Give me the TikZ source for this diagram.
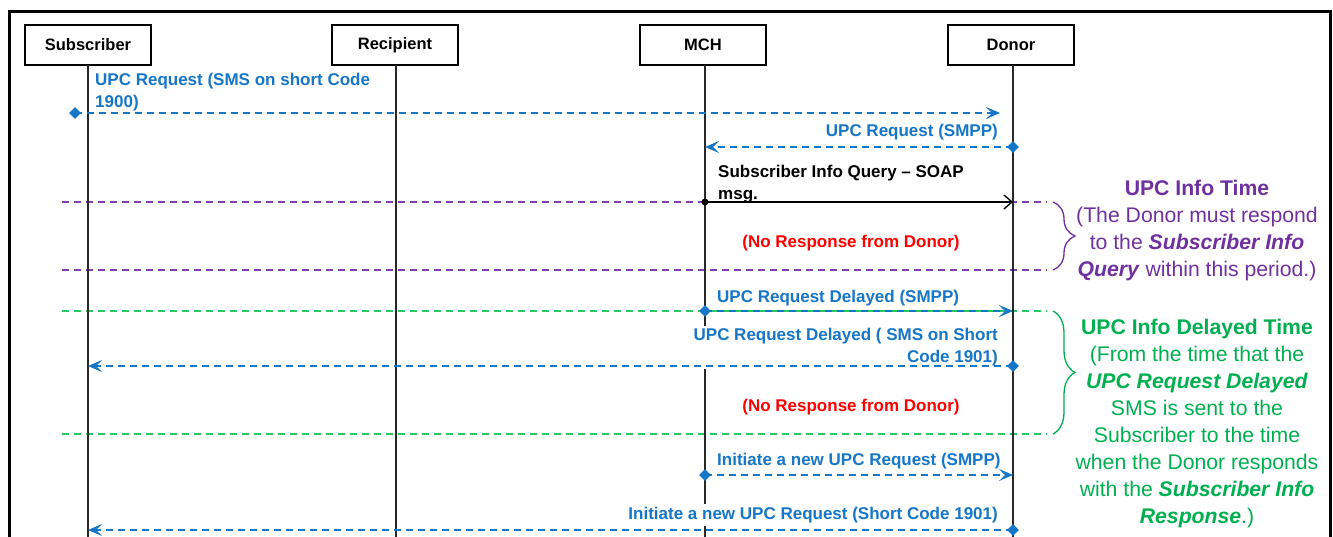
\documentclass[tikz,border=0pt]{standalone}
\usepackage{fontspec}
\setmainfont{Liberation Sans}
\usetikzlibrary{arrows.meta,shapes.geometric,decorations.pathreplacing}

\definecolor{msgblue}{RGB}{22,118,200}
\definecolor{infopurple}{RGB}{112,48,160}
\definecolor{seppurple}{RGB}{128,64,176}
\definecolor{infogreen}{RGB}{0,176,80}
\definecolor{sepgreen}{RGB}{40,200,100}
\definecolor{noresp}{RGB}{255,0,0}
\definecolor{lifegray}{RGB}{40,40,40}

\tikzset{
  actor/.style={draw=black, line width=1.5pt, minimum width=126pt, minimum height=40pt,
    inner sep=0pt, font=\fontsize{16.5}{20}\selectfont\bfseries},
  lifeline/.style={draw=lifegray, line width=1.4pt},
  async/.style={draw=msgblue, line width=1.3pt, dash pattern=on 7pt off 5pt,
    -{Stealth[length=14pt,width=12pt,inset=6pt]}},
  syncmsg/.style={draw=black, line width=1.4pt, -{Straight Barb[length=8pt,width=14pt]}},
  origin/.style={diamond, fill=msgblue, minimum size=12pt, inner sep=0pt},
  startdot/.style={circle, fill=black, minimum size=7pt, inner sep=0pt},
  msglbl/.style={font=\fontsize{17}{22}\selectfont\bfseries, text=msgblue, inner sep=0pt},
  noresplbl/.style={font=\fontsize{17}{22}\selectfont\bfseries, text=noresp, inner sep=0pt},
  sepline/.style={line width=1.3pt, dash pattern=on 7pt off 5pt},
  period/.style={line width=1.3pt, decorate,
    decoration={brace, amplitude=22pt, aspect=0.5}},
  note/.style={font=\fontsize{21.2}{27}\selectfont, align=center, inner sep=0pt},
}

\begin{document}
\begin{tikzpicture}[x=1pt, y=-1pt]
\useasboundingbox (0,0) rectangle (1333,536);

% outer frame
\draw[line width=3pt] (9,11) rectangle (1330,560);

% participants
\node[actor] (sub) at (88,45)   {Subscriber};
\node[actor] (rec) at (395,45)  {Recipient};
\node[actor] (mch) at (703,45)  {MCH};
\node[actor] (don) at (1011,45) {Donor};
\coordinate (bottom) at (0,540);

% timing separators
\coordinate (pt1) at (62,202);  \coordinate (pt1e) at (1047,202);
\coordinate (pt2) at (62,270);  \coordinate (pt2e) at (1047,270);
\coordinate (gt1) at (62,311);  \coordinate (gt1e) at (1047,311);
\coordinate (gt2) at (62,434);  \coordinate (gt2e) at (1047,434);
\draw[sepline, seppurple] (pt1) -- (pt1e);
\draw[sepline, seppurple] (pt2) -- (pt2e);
\draw[sepline, sepgreen] (gt1) -- (gt1e);
\draw[sepline, sepgreen] (gt2) -- (gt2e);

% lifelines
\coordinate (subl) at (88,65);
\coordinate (recl) at (396,65);
\coordinate (mchl) at (705,65);
\coordinate (donl) at (1013,65);
\draw[lifeline] (subl) -- (subl |- bottom);
\draw[lifeline] (recl) -- (recl |- bottom);
\draw[lifeline] (mchl) -- (mchl |- bottom);
\draw[lifeline] (donl) -- (donl |- bottom);

% period braces
\coordinate (pb1) at (1053,202); \coordinate (pb2) at (1053,270);
\coordinate (gb1) at (1053,311); \coordinate (gb2) at (1053,434);
\draw[period, infopurple] (pb1) -- (pb2);
\draw[period, infogreen] (gb1) -- (gb2);

% message labels
\node[msglbl, anchor=south west, align=left] (l1) at (95,111.6)
  {UPC Request (SMS on short Code\\1900)};
\node[msglbl, anchor=base east] (l2) at (998,136) {UPC Request (SMPP)};
\node[msglbl, text=black, anchor=south west, align=left] (l3) at (718,203.6)
  {Subscriber Info Query – SOAP\\msg.};
\node[noresplbl, anchor=base] (nr1) at (851,247) {(No Response from Donor)};
\node[msglbl, anchor=base west] (l4) at (717,302) {UPC Request Delayed (SMPP)};
\node[msglbl, anchor=south east, align=right, fill=white, inner ysep=3pt] (l5) at (998,369.6)
  {UPC Request Delayed ( SMS on Short\\Code 1901)};
\node[noresplbl, anchor=base] (nr2) at (851,411) {(No Response from Donor)};
\node[msglbl, anchor=base west] (l6) at (717,465) {Initiate a new UPC Request (SMPP)};
\node[msglbl, anchor=base east, fill=white, inner ysep=3pt] (l7) at (998,519)
  {Initiate a new UPC Request (Short Code 1901)};

% messages
\coordinate (m1a) at (75,113);
\coordinate (m1b) at (1000,113);
\node[origin] (o1) at (m1a) {};
\draw[async] (o1.center) -- (m1b);

\node[origin] (o2) at (donl |- 0,147) {};
\draw[async] (o2.center) -- (mchl |- o2);

\node[startdot] (o3) at (mchl |- 0,202) {};
\draw[syncmsg] (o3.center) -- (donl |- o3);

\node[origin] (o4) at (mchl |- 0,311) {};
\draw[async] (o4.center) -- (donl |- o4);

\node[origin] (o5) at (donl |- 0,366) {};
\draw[async] (o5.center) -- (subl |- o5);

\node[origin] (o6) at (mchl |- 0,475) {};
\draw[async] (o6.center) -- (donl |- o6);

\node[origin] (o7) at (donl |- 0,530) {};
\draw[async] (o7.center) -- (subl |- o7);

% period notes
\node[note, text=infopurple, anchor=south] (info) at (1197,281.4)
  {\textbf{UPC Info Time}\\
   (The Donor must respond\\
   to the \textbf{\textit{Subscriber Info}}\\
   \textbf{\textit{Query}} within this period.)};
\node[note, text=infogreen, anchor=south] (delay) at (1197,528.4)
  {\textbf{UPC Info Delayed Time}\\
   (From the time that the\\
   \textbf{\textit{UPC Request Delayed}}\\
   SMS is sent to the\\
   Subscriber to the time\\
   when the Donor responds\\
   with the \textbf{\textit{Subscriber Info}}\\
   \textbf{\textit{Response}}.)};
\end{tikzpicture}
\end{document}
